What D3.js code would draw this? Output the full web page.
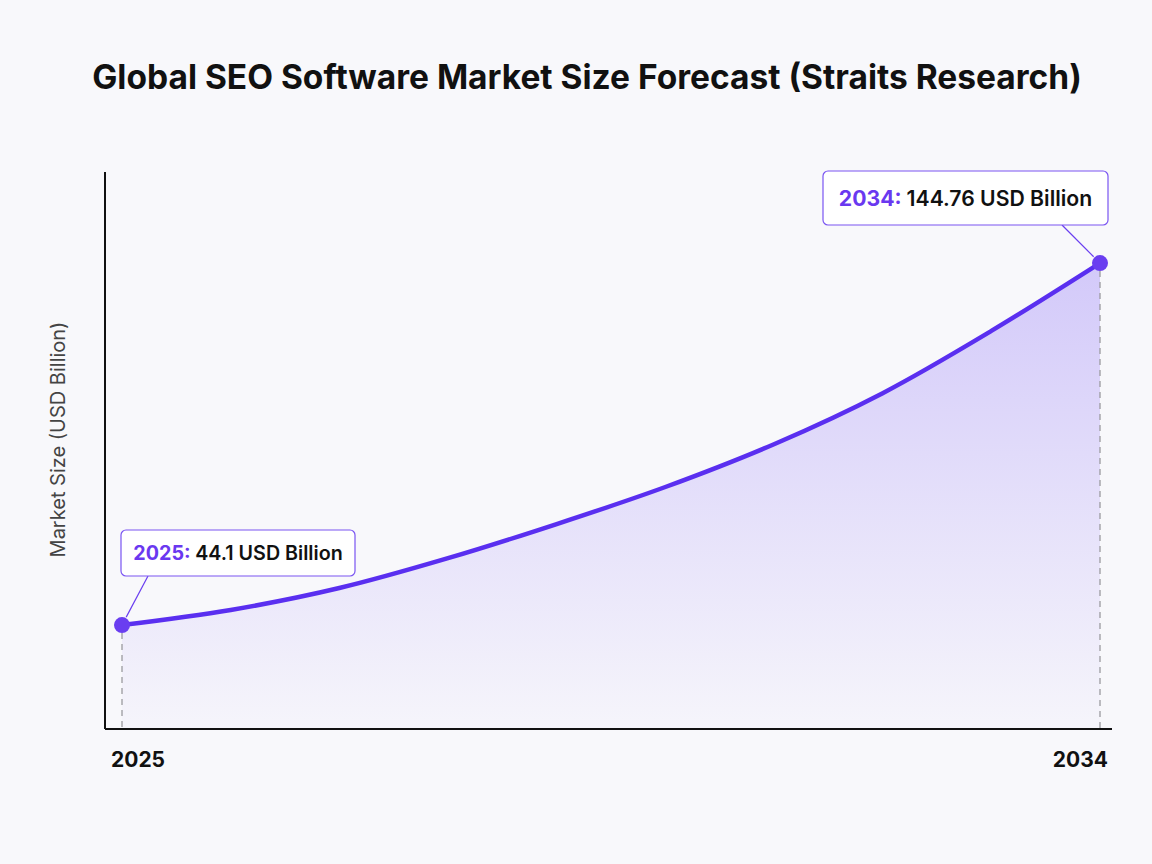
<!DOCTYPE html>
<html>
<head>
<meta charset="utf-8">
<script src="https://cdn.jsdelivr.net/npm/d3@7"></script>
<style>
  html, body { margin: 0; padding: 0; background: #f8f8fb; }
  svg { display: block; font-family: Inter, "Noto Sans", sans-serif; }
</style>
</head>
<body>
<div id="chart"></div>
<script>
// data
const YEARS = [2025, 2026, 2027, 2028, 2029, 2030, 2031, 2032, 2033, 2034];
const VALUES = [44.1, 48.3, 54.4, 62.7, 72.2, 82.5, 94.4, 108.6, 125.9, 144.76];
const CALLOUTS = [
  {year: 2025, value: 44.1, label: "44.1 USD Billion"},
  {year: 2034, value: 144.76, label: "144.76 USD Billion"}
];
const TITLE = "Global SEO Software Market Size Forecast (Straits Research)";
const Y_LABEL = "Market Size (USD Billion)";

const FRAME_WIDTH = 1152;
const FRAME_HEIGHT = 864;
const MARGINS = {left: 105, right: 40, top: 172, bottom: 135};
const AXIS_BOTTOM = FRAME_HEIGHT - MARGINS.bottom;
const AXIS_RIGHT = FRAME_WIDTH - MARGINS.right;

const data = YEARS.map((y, i) => ({year: y, value: VALUES[i]}));

const svg = d3.select("#chart")
  .append("svg")
    .attr("width", FRAME_WIDTH)
    .attr("height", FRAME_HEIGHT);

svg.append("rect")
  .attr("width", FRAME_WIDTH)
  .attr("height", FRAME_HEIGHT)
  .attr("fill", "#f8f8fb");

const X_SCALE = d3.scaleLinear()
  .domain([2025, 2034])
  .range([122, 1100]);

const Y_SCALE = d3.scaleLinear()
  .domain([15.2, 170.1])
  .range([AXIS_BOTTOM, MARGINS.top]);

// gradient for the area
const defs = svg.append("defs");
const grad = defs.append("linearGradient")
  .attr("id", "areaFill")
  .attr("x1", 0).attr("x2", 0)
  .attr("gradientUnits", "userSpaceOnUse")
  .attr("y1", Y_SCALE(144.76)).attr("y2", AXIS_BOTTOM);
grad.append("stop").attr("offset", "0%").attr("stop-color", "#7c5cf6").attr("stop-opacity", 0.30);
grad.append("stop").attr("offset", "100%").attr("stop-color", "#7c5cf6").attr("stop-opacity", 0.02);

const area = d3.area()
  .x(d => X_SCALE(d.year))
  .y0(AXIS_BOTTOM)
  .y1(d => Y_SCALE(d.value))
  .curve(d3.curveCatmullRom);

const line = d3.line()
  .x(d => X_SCALE(d.year))
  .y(d => Y_SCALE(d.value))
  .curve(d3.curveCatmullRom);

svg.append("path")
  .datum(data)
  .attr("d", area)
  .attr("fill", "url(#areaFill)");

// dashed drop lines
svg.selectAll(".drop")
  .data(CALLOUTS)
  .enter()
  .append("line")
    .attr("x1", d => X_SCALE(d.year))
    .attr("x2", d => X_SCALE(d.year))
    .attr("y1", d => Y_SCALE(d.value) + 8)
    .attr("y2", AXIS_BOTTOM)
    .attr("stroke", "#9a9a9f")
    .attr("stroke-width", 1.3)
    .attr("stroke-dasharray", "6,5");

svg.append("path")
  .datum(data)
  .attr("d", line)
  .attr("fill", "none")
  .attr("stroke", "#5a2ff0")
  .attr("stroke-width", 4.5)
  .attr("stroke-linecap", "round");

// axes
svg.append("line")
  .attr("x1", MARGINS.left).attr("x2", MARGINS.left)
  .attr("y1", MARGINS.top).attr("y2", AXIS_BOTTOM)
  .attr("stroke", "#111").attr("stroke-width", 2);

svg.append("line")
  .attr("x1", MARGINS.left).attr("x2", AXIS_RIGHT)
  .attr("y1", AXIS_BOTTOM).attr("y2", AXIS_BOTTOM)
  .attr("stroke", "#111").attr("stroke-width", 2);

// x labels (first and last year)
svg.selectAll(".xlab")
  .data([YEARS[0], YEARS[YEARS.length - 1]])
  .enter()
  .append("text")
    .attr("x", (d, i) => X_SCALE(d) + (i === 0 ? -11 : 8))
    .attr("y", AXIS_BOTTOM + 38)
    .attr("text-anchor", (d, i) => i === 0 ? "start" : "end")
    .attr("font-size", "21px")
    .attr("font-weight", 700)
    .attr("fill", "#111")
    .text(d => d);

// y label
svg.append("text")
  .attr("transform", "translate(65," + ((MARGINS.top + AXIS_BOTTOM) / 2 - 11) + ") rotate(-90)")
  .attr("text-anchor", "middle")
  .attr("font-size", "20px")
  .attr("fill", "#444")
  .text(Y_LABEL);

// title
svg.append("text")
  .attr("x", FRAME_WIDTH / 2 + 11)
  .attr("y", 89)
  .attr("text-anchor", "middle")
  .attr("font-size", "33.5px")
  .attr("font-weight", 700)
  .attr("fill", "#111")
  .text(TITLE);

// callouts
const BOXES = [
  {x: 121, y: 530, w: 234, h: 46, lx: 148, fs: 19.7},
  {x: 823, y: 171, w: 285, h: 54, lx: 1062, fs: 21.2}
];

CALLOUTS.forEach((c, i) => {
  const b = BOXES[i];
  const px = X_SCALE(c.year), py = Y_SCALE(c.value);
  // leader line
  const dx = px - b.lx, dy = py - (b.y + b.h);
  const len = Math.sqrt(dx * dx + dy * dy);
  svg.append("line")
    .attr("x1", b.lx).attr("y1", b.y + b.h)
    .attr("x2", px - dx / len * 9).attr("y2", py - dy / len * 9)
    .attr("stroke", "#6a3ef0").attr("stroke-width", 1.2);

  svg.append("rect")
    .attr("x", b.x).attr("y", b.y)
    .attr("width", b.w).attr("height", b.h)
    .attr("rx", 5)
    .attr("fill", "#ffffff")
    .attr("stroke", "#7a55f2")
    .attr("stroke-width", 1.2);

  const t = svg.append("text")
    .attr("x", b.x + b.w / 2)
    .attr("y", b.y + b.h / 2 + b.fs * 0.36)
    .attr("text-anchor", "middle")
    .attr("font-size", b.fs + "px")
    .attr("font-weight", 600);
  t.append("tspan").attr("fill", "#6a38f0").attr("font-weight", 700).text(c.year + ": ");
  t.append("tspan").attr("fill", "#111").text(c.label);
});

// points
svg.selectAll(".pt")
  .data(CALLOUTS)
  .enter()
  .append("circle")
    .attr("cx", d => X_SCALE(d.year))
    .attr("cy", d => Y_SCALE(d.value))
    .attr("r", 8)
    .attr("fill", "#6a3ef0");
</script>
</body>
</html>
